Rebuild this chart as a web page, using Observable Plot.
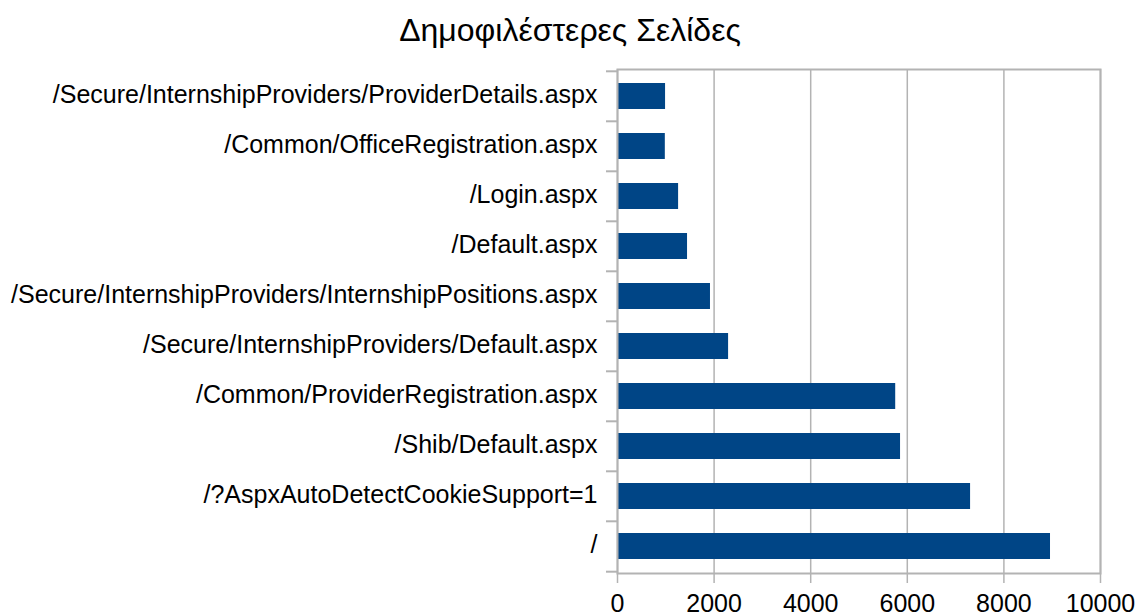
<!DOCTYPE html>
<html><head><meta charset="utf-8">
<script src="https://cdn.jsdelivr.net/npm/d3@7"></script>
<script src="https://cdn.jsdelivr.net/npm/@observablehq/plot@0.6"></script>
<style>
body{margin:0;background:#fff;font-family:"Liberation Sans",Arial,sans-serif;}
#title{height:60px;line-height:60px;text-align:center;font-size:32px;color:#000;padding-left:4px;}
</style></head><body>
<div id="title">Δημοφιλέστερες Σελίδες</div>
<div id="chart"></div>
<script>
const pages = [
  "/Secure/InternshipProviders/ProviderDetails.aspx",
  "/Common/OfficeRegistration.aspx",
  "/Login.aspx",
  "/Default.aspx",
  "/Secure/InternshipProviders/InternshipPositions.aspx",
  "/Secure/InternshipProviders/Default.aspx",
  "/Common/ProviderRegistration.aspx",
  "/Shib/Default.aspx",
  "/?AspxAutoDetectCookieSupport=1",
  "/"
];
const visits = [995, 990, 1265, 1450, 1925, 2300, 5760, 5860, 7310, 8965];
const xTicks = [0, 2000, 4000, 6000, 8000, 10000];

const data = pages.map((p, i) => ({page: p, visits: visits[i]}));
const H = 556, MT = 9, MB = 43;
const step = (H - MT - MB) / pages.length;
const grey = "#b3b3b3";

const chart = Plot.plot({
  width: 1136, height: H,
  marginLeft: 617, marginRight: 36, marginTop: MT, marginBottom: MB,
  style: {fontFamily: "Liberation Sans", fontSize: "25px", background: "#fff", color: "#000"},
  x: {domain: [0, 10000]},
  y: {domain: pages, paddingInner: 0.48, paddingOuter: 0.24, label: null},
  marks: [
    Plot.gridX(xTicks, {stroke: grey, strokeOpacity: 1, strokeWidth: 1.5}),
    Plot.barX(data, {y: "page", x: "visits", fill: "#004586"}),
    Plot.frame({stroke: grey, strokeWidth: 2}),
    Plot.axisX(xTicks, {tickSize: 10, tickPadding: 11, tickFormat: d => String(d), stroke: grey, strokeWidth: 1.5, fill: "#000", label: null, fontSize: 25}),
    Plot.axisY({tickSize: 0, tickPadding: 20, dy: -2, label: null, fontSize: 25, fill: "#000"}),
    Plot.axisY({tickSize: 11, tickFormat: () => "", dy: -step / 2, stroke: grey, strokeWidth: 2, label: null}),
    Plot.axisY([pages[pages.length - 1]], {tickSize: 11, tickFormat: () => "", dy: step / 2, stroke: grey, strokeWidth: 2, label: null})
  ]
});
document.getElementById("chart").append(chart);
</script>
</body></html>
